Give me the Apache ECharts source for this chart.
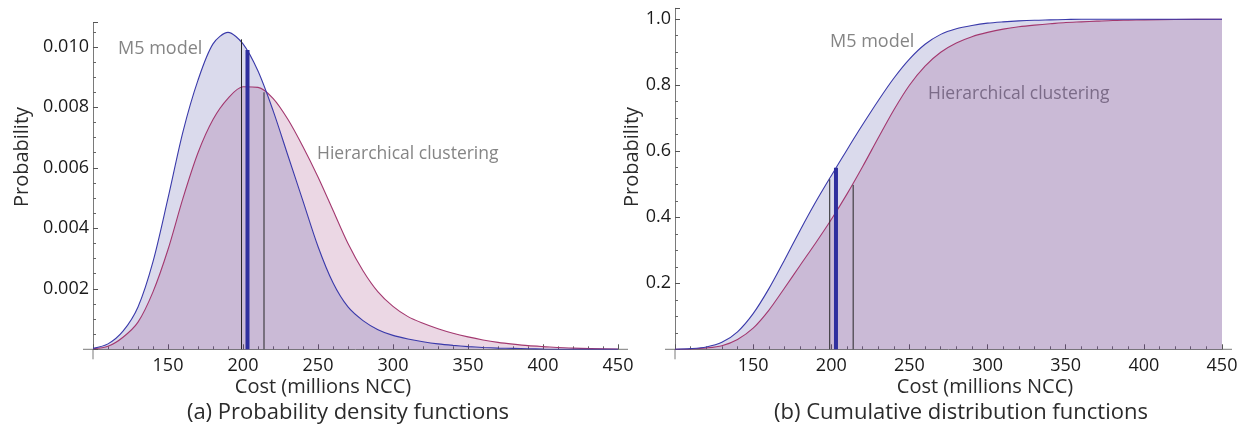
<!DOCTYPE html>
<html><head><meta charset="utf-8">
<script src="https://cdn.jsdelivr.net/npm/echarts@6/dist/echarts.min.js"></script>
<style>html,body{margin:0;padding:0;background:#fff}#c{width:1247px;height:429px}</style>
</head><body><div id="c"></div><script>
// ---- data ----
const costs = [100,110,120,130,140,150,160,170,180,190,200,210,220,230,240,250,260,270,280,290,300,310,320,330,340,350,360,370,380,390,400,420,450];
const pdfM5 = [0.00003,0.00018,0.0006,0.0014,0.0029,0.0050,0.0072,0.0089,0.0101,0.01048,0.0101,0.0092,0.0079,0.0064,0.0049,0.0034,0.0022,0.0014,0.00095,0.00065,0.00046,0.00034,0.00025,0.00018,0.00013,0.00009,0.00006,0.00004,0.00003,0.00002,0.00001,0,0];
const pdfHC = [0.00002,0.0001,0.0004,0.0009,0.0019,0.0033,0.0050,0.0065,0.0076,0.0083,0.00868,0.00866,0.0083,0.0076,0.0067,0.0057,0.0046,0.0035,0.0026,0.0019,0.00142,0.00108,0.00086,0.00068,0.00053,0.00041,0.00031,0.00023,0.00017,0.00012,0.00009,0.00004,0.00001];
const cdfM5 = [0,0.002,0.007,0.021,0.053,0.108,0.183,0.27,0.36,0.446,0.526,0.604,0.68,0.753,0.821,0.879,0.924,0.954,0.971,0.981,0.988,0.992,0.995,0.997,0.998,0.999,1,1,1,1,1,1,1];
const cdfHC = [0,0.001,0.004,0.011,0.03,0.064,0.118,0.185,0.254,0.322,0.393,0.47,0.553,0.64,0.725,0.8,0.858,0.9,0.928,0.947,0.96,0.97,0.977,0.982,0.986,0.99,0.992,0.994,0.996,0.997,0.998,0.999,1];
const xTickLabels = [150,200,250,300,350,400,450];
const pdfTickLabels = [0.002,0.004,0.006,0.008,0.010];
const cdfTickLabels = [0.2,0.4,0.6,0.8,1.0];
// vertical marker lines: [cost, top value, kind]
const pdfMarkers = [[199,0.01025,'thin'],[203,0.0099,'thick'],[214,0.0085,'thin']];
const cdfMarkers = [[199,0.515,'thin'],[203,0.55,'thick'],[214,0.498,'thin']];

const FONT = '"Open Sans", sans-serif';
const BLUE = '#3a3aaa', RED = '#a3386f';
const BLUE_FILL = 'rgba(70,70,160,0.2)', RED_FILL = 'rgba(155,55,120,0.2)';

function has(list, v){ return list.some(t => Math.abs(t - v) < 1e-9); }

function xAxis(gi){
  return {type:'value', gridIndex:gi, min:100, max:450, interval:50,
    axisLine:{show:true, onZero:false, lineStyle:{color:'#7a7a7a', width:1}},
    axisTick:{show:true, inside:true, length:5, lineStyle:{color:'#555'}},
    minorTick:{show:true, splitNumber:5, length:3, lineStyle:{color:'#666'}},
    splitLine:{show:false}, minorSplitLine:{show:false},
    axisLabel:{fontFamily:FONT, fontSize:18, color:'#1a1a1a', margin:8,
      showMinLabel:true, showMaxLabel:true, hideOverlap:false,
      formatter: v => has(xTickLabels, v) ? String(v) : ''}};
}
function yAxis(gi, max, interval, labels, digits){
  return {type:'value', gridIndex:gi, min:0, max:max, interval:interval,
    axisLine:{show:true, onZero:false, lineStyle:{color:'#7a7a7a', width:1}},
    axisTick:{show:true, inside:true, length:5, lineStyle:{color:'#555'}},
    minorTick:{show:true, splitNumber:4, length:3, lineStyle:{color:'#666'}},
    splitLine:{show:false}, minorSplitLine:{show:false},
    axisLabel:{fontFamily:FONT, fontSize:18, color:'#1a1a1a', margin:4, hideOverlap:false,
      formatter: v => has(labels, v) ? v.toFixed(digits) : ''}};
}
function curve(gi, ys, color, fill){
  return {type:'line', xAxisIndex:gi, yAxisIndex:gi, data: costs.map((c,i)=>[c, ys[i]]),
    smooth:0.3, symbol:'none', silent:true,
    lineStyle:{color:color, width:1.1}, areaStyle:{color:fill, opacity:1}};
}
function markers(gi, list){
  return list.map(m => ({type:'line', xAxisIndex:gi, yAxisIndex:gi, symbol:'none', silent:true,
    data:[[m[0],0],[m[0],m[1]]], z:5,
    lineStyle: m[2]==='thick' ? {color:'#2f2f9e', width:4} : {color:'#262626', width:1}}));
}
function text(x, y, str, size, color, extra){
  return Object.assign({type:'text', x:x, y:y, silent:true,
    style:{text:str, fontFamily:FONT, fontSize:size, fill:color, textAlign:'center', textVerticalAlign:'middle'}}, extra||{});
}

const chart = echarts.init(document.getElementById('c'), null, {renderer:'canvas'});
chart.setOption({
  animation:false,
  backgroundColor:'#fff',
  grid:[
    {left:93, top:22.7, width:525, height:326.6, outerBoundsMode:'none', containLabel:false},
    {left:675, top:8.3, width:547, height:341, outerBoundsMode:'none', containLabel:false}
  ],
  xAxis:[xAxis(0), xAxis(1)],
  yAxis:[yAxis(0, 0.0108, 0.002, pdfTickLabels, 3), yAxis(1, 1.033, 0.2, cdfTickLabels, 1)],
  series:[
    curve(0, pdfHC, RED, RED_FILL), curve(0, pdfM5, BLUE, BLUE_FILL),
    curve(1, cdfHC, RED, RED_FILL), curve(1, cdfM5, BLUE, BLUE_FILL),
    ...markers(0, pdfMarkers), ...markers(1, cdfMarkers)
  ],
  graphic:[
    text(323, 387, 'Cost (millions NCC)', 20, '#2b2b2b'),
    text(348, 413, '(a) Probability density functions', 22, '#2b2b2b'),
    text(985, 387, 'Cost (millions NCC)', 20, '#2b2b2b'),
    text(961, 413, '(b) Cumulative distribution functions', 22, '#2b2b2b'),
    text(22, 157, 'Probability', 20, '#2b2b2b', {rotation:Math.PI/2}),
    text(632, 157, 'Probability', 20, '#2b2b2b', {rotation:Math.PI/2}),
    {type:'text', x:118, y:49, silent:true, style:{text:'M5 model', fontFamily:FONT, fontSize:18, fill:'#858585', textVerticalAlign:'middle'}},
    {type:'text', x:317, y:154, silent:true, style:{text:'Hierarchical clustering', fontFamily:FONT, fontSize:17.5, fill:'#858585', textVerticalAlign:'middle'}},
    {type:'text', x:830, y:42, silent:true, style:{text:'M5 model', fontFamily:FONT, fontSize:18, fill:'#858585', textVerticalAlign:'middle'}},
    {type:'text', x:928, y:94, silent:true, style:{text:'Hierarchical clustering', fontFamily:FONT, fontSize:17.5, fill:'#858585', textVerticalAlign:'middle'}}
  ]
});
// small axis overhangs past the origin and past the right end, placed with the library's own scales
const ext = [];
[0, 1].forEach(gi => {
  const o = chart.convertToPixel({gridIndex:gi}, [100, 0]);
  const e = chart.convertToPixel({gridIndex:gi}, [450, 0]);
  const s = {stroke:'#7a7a7a', lineWidth:1};
  ext.push({type:'line', silent:true, shape:{x1:o[0]-10, y1:o[1], x2:o[0], y2:o[1]}, style:s});
  ext.push({type:'line', silent:true, shape:{x1:o[0], y1:o[1], x2:o[0], y2:o[1]+10}, style:s});
  ext.push({type:'line', silent:true, shape:{x1:e[0], y1:e[1], x2:e[0]+10, y2:e[1]}, style:s});
});
chart.setOption({graphic: ext.map((el,i)=>Object.assign({id:'ext'+i}, el))});
</script></body></html>
